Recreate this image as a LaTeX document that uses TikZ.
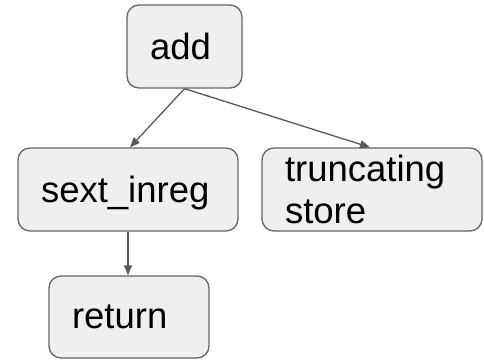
\documentclass[tikz,border=0pt]{standalone}
\usepackage{fontspec}
\setmainfont{Liberation Sans}
\usetikzlibrary{arrows.meta}
\definecolor{boxfill}{HTML}{EFEFEF}
\definecolor{boxline}{HTML}{666666}
\definecolor{arrowc}{HTML}{595959}
\begin{document}
\begin{tikzpicture}[x=1pt,y=-1pt,
  opbox/.style={draw=boxline, fill=boxfill, line width=1.3pt, rounded corners=12pt,
    font=\fontsize{36.5}{42}\selectfont, align=left, inner xsep=23pt, inner ysep=0pt,
    minimum height=83pt},
  conn/.style={draw=arrowc, line width=1.3pt, -{Triangle[length=10pt,width=8pt]}}]
\useasboundingbox (0,0) rectangle (484,359);
\node[opbox, text width=69pt, minimum width=115pt, text depth=0pt] (add) at (184.5,46.5) {add};
\node[opbox, text width=174pt, minimum width=220pt, text height=26pt, text depth=0pt] (sext) at (128,189.5) {sext\_inreg};
\node[opbox, text width=174pt, minimum width=220pt] (trunc) at (372,189.5) {truncating\\store};
\node[opbox, text width=114pt, minimum width=160pt, minimum height=82pt, text depth=0pt] (ret) at (129,317) {return};
\draw[conn] (add.south) -- ([xshift=2pt]sext.north);
\draw[conn] (add.south) -- ([xshift=-2pt]trunc.north);
\draw[conn] (sext.south) -- (sext.south |- ret.north);
\end{tikzpicture}
\end{document}
